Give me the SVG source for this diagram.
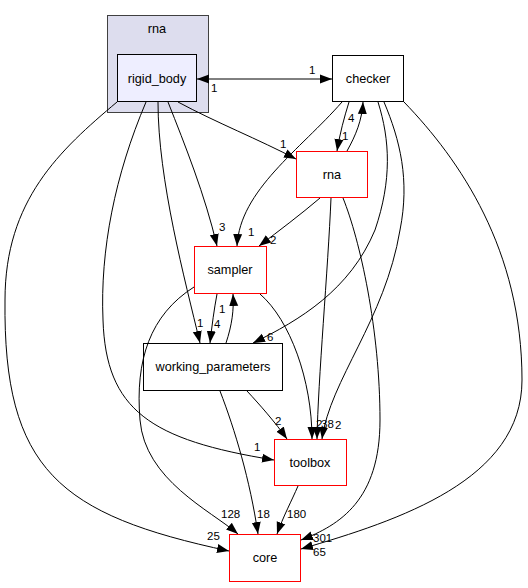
<svg xmlns="http://www.w3.org/2000/svg" width="528" height="588" viewBox="0 0 528 588">
<defs>
<marker id="ah" markerWidth="13" markerHeight="10" refX="12" refY="5" orient="auto-start-reverse" markerUnits="userSpaceOnUse">
<path d="M0,0.5 L12,5 L0,9.5 z" fill="#000"/>
</marker>
<style>
.e{fill:none;stroke:#000;stroke-width:1;marker-end:url(#ah)}
.l{font-family:"Liberation Sans",Arial,sans-serif;font-size:11.5px;fill:#000}
.n{font-family:"Liberation Sans",Arial,sans-serif;font-size:12.7px;fill:#000;text-anchor:middle}
.r{fill:#fff;stroke:#ff0000;stroke-width:1}
.b{fill:#fff;stroke:#000;stroke-width:1}
</style>
</defs>
<rect width="528" height="588" fill="#fff"/>
<g id="cluster_rna">
<rect x="107.5" y="15.5" width="101" height="97" fill="#ddddee" stroke="#404040"/>
<text class="n" x="157" y="33">rna</text>
</g>
<g id="node_rigid_body">
<rect x="117.5" y="54.5" width="79" height="47" fill="#eeeeff" stroke="#000"/>
<text class="n" x="157" y="83">rigid_body</text>
</g>
<g id="node_checker">
<rect class="b" x="332.5" y="55.5" width="71" height="46"/>
<text class="n" x="368" y="83">checker</text>
</g>
<g id="node_rna">
<rect class="r" x="296.5" y="151.5" width="71" height="46"/>
<text class="n" x="332" y="179">rna</text>
</g>
<g id="node_sampler">
<rect class="r" x="194.5" y="246.5" width="72" height="47"/>
<text class="n" x="230" y="274">sampler</text>
</g>
<g id="node_working_parameters">
<rect class="b" x="143.5" y="343.5" width="139" height="47"/>
<text class="n" x="213" y="371">working_parameters</text>
</g>
<g id="node_toolbox">
<rect class="r" x="274.5" y="439.5" width="72" height="46"/>
<text class="n" x="310" y="467">toolbox</text>
</g>
<g id="node_core">
<rect class="r" x="229.5" y="534.5" width="71" height="47"/>
<text class="n" x="265" y="562">core</text>
</g>
<g id="edges">
<path class="e" style="marker-start:url(#ah)" d="M197,79 L332,79"/>
<text class="l" x="309" y="74">1</text>
<text class="l" x="211" y="92">1</text>
<path class="e" d="M178,102 C215,122 260,140 296,159"/>
<text class="l" x="280" y="148">1</text>
<path class="e" d="M168,102 C185,145 205,195 217,246"/>
<text class="l" x="219" y="231">3</text>
<path class="e" d="M158,102 C158,180 185,280 200,343"/>
<text class="l" x="197" y="327">1</text>
<path class="e" d="M146,102 C115,175 100,250 103,320 C106,410 150,440 274,460"/>
<text class="l" x="254" y="451">1</text>
<path class="e" d="M117,102 C60,150 5,200 5,300 C3,470 60,515 229,551"/>
<text class="l" x="207" y="540">25</text>
<path class="e" d="M342,102 C300,150 240,190 237,246"/>
<text class="l" x="248" y="236">1</text>
<path class="e" d="M349,102 C344,118 340,133 337,151"/>
<text class="l" x="342" y="140">1</text>
<path class="e" d="M347,151 C356,135 362,120 363,102"/>
<text class="l" x="348" y="122">4</text>
<path class="e" d="M378,102 C390,140 392,180 375,230 C350,290 300,320 253,343"/>
<text class="l" x="267" y="341">6</text>
<path class="e" d="M384,102 C400,140 410,180 400,230 C385,320 330,380 322,439"/>
<text class="l" x="335" y="429">2</text>
<path class="e" d="M404,102 C460,160 522,250 522,380 C522,480 400,520 301,549"/>
<text class="l" x="313" y="556">65</text>
<path class="e" d="M320,198 C300,215 280,230 259,246"/>
<text class="l" x="270" y="244">2</text>
<path class="e" d="M331,198 C328,270 318,380 317,439"/>
<text class="l" x="321" y="428">38</text>
<path class="e" d="M343,198 C360,240 380,330 380,420 C380,500 340,525 301,540"/>
<text class="l" x="313" y="542">301</text>
<path class="e" d="M217,294 C214,310 212,325 210,343"/>
<text class="l" x="214" y="328">4</text>
<path class="e" d="M226,343 C232,325 234,310 233,294"/>
<text class="l" x="219" y="313">1</text>
<path class="e" d="M194,287 C150,315 135,360 140,420 C145,480 210,510 238,534"/>
<text class="l" x="221" y="518">128</text>
<path class="e" d="M260,294 C290,320 312,380 312,439"/>
<text class="l" x="316" y="428">2</text>
<path class="e" d="M247,391 C260,405 275,422 287,439"/>
<text class="l" x="275" y="425">2</text>
<path class="e" d="M220,391 C235,430 250,480 258,534"/>
<text class="l" x="257" y="518">18</text>
<path class="e" d="M298,486 C292,500 283,517 277,534"/>
<text class="l" x="287" y="518">180</text>
</g>
</svg>
